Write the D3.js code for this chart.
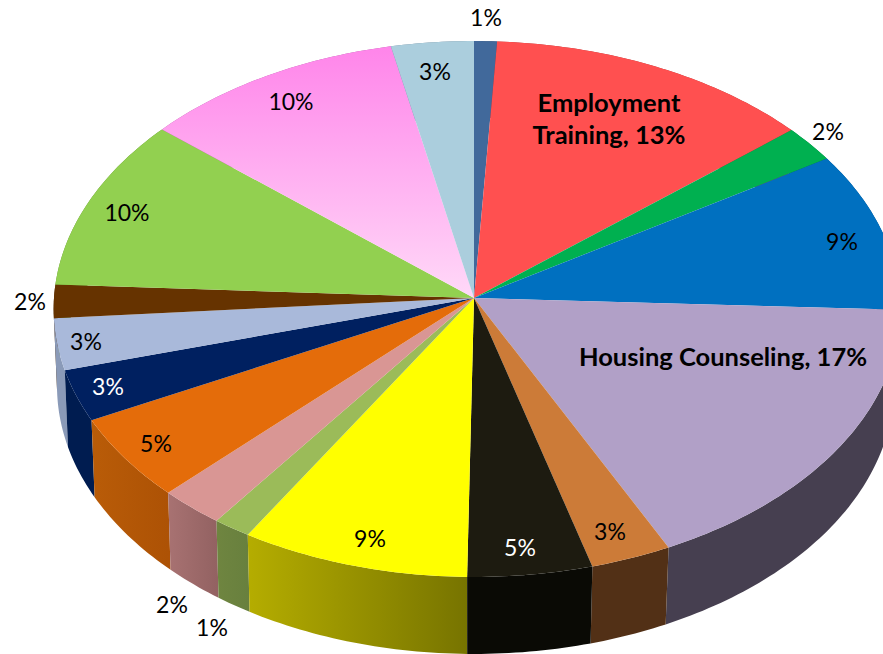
<!DOCTYPE html>
<html>
<head>
<meta charset="utf-8">
<title>Pie</title>
<script src="https://cdn.jsdelivr.net/npm/d3@7"></script>
<style>
  html, body { margin: 0; padding: 0; background: #fff; overflow: hidden; }
  text { font-family: Lato, "Open Sans", sans-serif; }
</style>
</head>
<body>
<svg id="chart"></svg>
<script>
// Share of each slice, clockwise from 12 o'clock
var shares = [0.9, 12.96, 2.2, 9.64, 17.05, 2.95, 4.55, 8.45, 1.4, 2.4, 5.1, 3.1, 3.1, 2.0, 10.4, 10.5, 3.3];
var labels = ["1%", "Employment\nTraining, 13%", "2%", "9%", "Housing Counseling, 17%", "3%", "5%", "9%", "1%", "2%", "5%", "3%", "3%", "2%", "10%", "10%", "3%"];
var topColors = ["#41699b", "#ff5050", "#00b050", "#0070c0", "#b1a0c7", "#cc7b38", "#1d1b10", "#ffff00", "#9bbb59", "#d99694", "#e46c0a", "#002060", "#a9b9da", "#663300", "#92d050", "url(#pinkFade)", "#abcedd"];
var wallLeft = ["#2c4669", "#aa3535", "#007538", "#004b80", "#463f50", "#523016", "#0a0a05", "#b5ad00", "#6f8540", "#a87272", "#b95c08", "#001c50", "#8a9ab8", "#442200", "#628b36", "#aa58a0", "#72899a"];
var wallRight = ["#2c4669", "#aa3535", "#007538", "#004b80", "#463f50", "#523016", "#0a0a05", "#777400", "#68803e", "#936262", "#ad5205", "#001c50", "#8a9ab8", "#442200", "#628b36", "#aa58a0", "#72899a"];
var labelColors = ["#000", "#000", "#000", "#000", "#000", "#000", "#fff", "#000", "#000", "#000", "#000", "#fff", "#000", "#000", "#000", "#000", "#000"];
var boldLabels = [1, 4];

// Where the data labels were dragged to in the chart
var labelX = [486, 609, 828, 842, 723, 610, 520, 370, 212, 172, 156, 108, 86, 30, 127, 291, 435];
var labelY = [18, 120, 132, 242, 358, 532, 548, 539, 628, 605, 444, 387, 342, 302, 213, 102, 72];

var width = 883;
var height = 654;
var apex = { x: 474, y: 298 };
var radiusLeft = 420;
var radiusRight = 426;
var depthB = 267.5;   // vertical reach of the disc
var tilt = 0.041;     // perspective, the near rim is bigger than the far one
var wallHeight = 77;

var svg = d3.select("#chart")
  .attr("width", width)
  .attr("height", height)
  .style("display", "block");

var defs = svg.append("defs");

var pinkFade = defs.append("linearGradient")
  .attr("id", "pinkFade")
  .attr("gradientUnits", "userSpaceOnUse")
  .attr("x1", 0).attr("x2", 0)
  .attr("y1", 47).attr("y2", 298);
pinkFade.append("stop").attr("offset", 0).attr("stop-color", "#ff85ea");
pinkFade.append("stop").attr("offset", 1).attr("stop-color", "#ffd9f8");

// Put a point of the flat pie on the tilted disc
function project(angle, r) {
  var u = r * Math.sin(angle);
  var v = -r * Math.cos(angle);
  var a = u < 0 ? radiusLeft : radiusRight;
  var w = 1 - tilt * v;
  return [apex.x + a * u / w, apex.y + depthB * v / w];
}

var pie = d3.pie().sort(null).value(function (d) { return d; });
var slices = pie(shares);
var line = d3.line();

function rimPoints(d) {
  var n = Math.max(4, Math.ceil((d.endAngle - d.startAngle) * 60));
  return d3.range(n + 1).map(function (i) {
    return project(d.startAngle + (d.endAngle - d.startAngle) * i / n, 1);
  });
}

function dropPoint(p) {
  var shrink = p[0] < apex.x ? 0.992 : 0.985;
  return [apex.x + (p[0] - apex.x) * shrink, p[1] + wallHeight];
}

// Walls first, back to front, the top of the pie then covers what is behind it
var wallOrder = d3.range(slices.length).sort(function (a, b) {
  return d3.mean(rimPoints(slices[a]), function (p) { return p[1]; }) -
    d3.mean(rimPoints(slices[b]), function (p) { return p[1]; });
});

wallOrder.forEach(function (i) {
  var rim = rimPoints(slices[i]);
  var grad = defs.append("linearGradient")
    .attr("id", "wall" + i)
    .attr("gradientUnits", "userSpaceOnUse")
    .attr("x1", d3.min(rim, function (p) { return p[0]; }))
    .attr("x2", d3.max(rim, function (p) { return p[0]; }))
    .attr("y1", 0).attr("y2", 0);
  grad.append("stop").attr("offset", 0).attr("stop-color", wallLeft[i]);
  grad.append("stop").attr("offset", 1).attr("stop-color", wallRight[i]);

  var outline = rim.concat(rim.map(dropPoint).reverse());
  svg.append("path")
    .attr("d", line(outline) + "Z")
    .attr("fill", "url(#wall" + i + ")");
});

svg.selectAll(".slice")
  .data(slices)
  .enter()
  .append("path")
  .attr("class", "slice")
  .attr("d", function (d) {
    return line([[apex.x, apex.y]].concat(rimPoints(d))) + "Z";
  })
  .attr("fill", function (d, i) { return topColors[i]; });

// Labels
labels.forEach(function (label, i) {
  var bold = boldLabels.indexOf(i) >= 0;
  var rows = label.split("\n");
  var text = svg.append("text")
    .attr("text-anchor", "middle")
    .attr("fill", labelColors[i])
    .style("font-size", bold ? "25.5px" : "23px")
    .style("font-weight", bold ? 700 : 400);
  rows.forEach(function (row, r) {
    text.append("tspan")
      .attr("x", labelX[i])
      .attr("y", labelY[i] + 8 + (r - (rows.length - 1) / 2) * 32)
      .text(row);
  });
});
</script>
</body>
</html>
